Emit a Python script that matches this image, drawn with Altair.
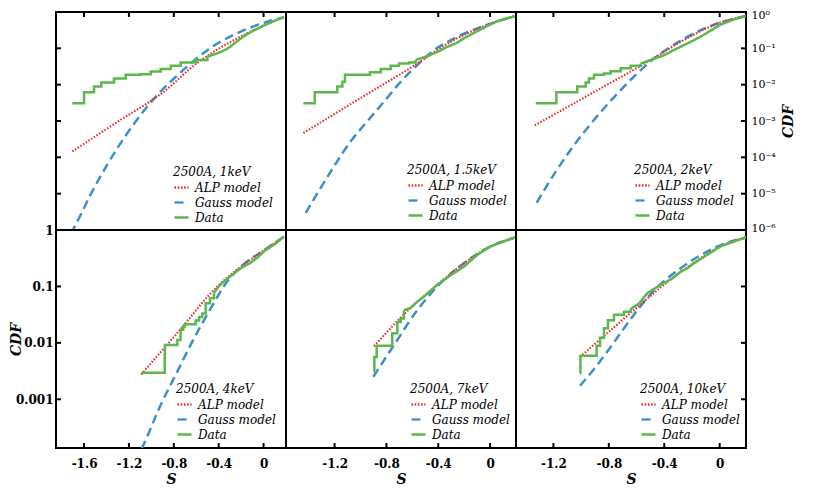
import altair as alt
import pandas as pd

SERIES = ["ALP model", "Gauss model", "Data"]
SERIES_COLORS = ["#e8302a", "#3d8fcb", "#5cb84c"]
SERIES_DASHES = [[1.6, 1.6], [9, 5], [1, 0]]

PANEL_LABELS = ["2500A, 1keV", "2500A, 1.5keV", "2500A, 2keV",
                "2500A, 4keV", "2500A, 7keV", "2500A, 10keV"]
LEGEND_X = [117, 121, 118, 120, 124, 124]
LEGEND_Y = [155, 153, 153, 154, 154, 154]

X_DOMAINS = [[-1.85, 0.2], [-1.575, 0.2], [-1.47, 0.19]]
X_TICKS = [[-1.6, -1.2, -0.8, -0.4, 0.0], [-1.2, -0.8, -0.4, 0.0], [-1.2, -0.8, -0.4, 0.0]]
Y_DOMAINS = [[1e-6, 1.0], [1.37e-4, 1.0]]
Y_LABELS_TOP = [1.0, 0.1, 0.01, 1e-3, 1e-4, 1e-5, 1e-6]
Y_LABELS_BOTTOM = [1.0, 0.1, 0.01, 0.001]
Y_TICKS_TOP = [0.1, 0.01, 1e-3, 1e-4, 1e-5]
Y_TICKS_BOTTOM = [0.1, 0.01, 0.001]

# ---- 2500A, 1keV ----
alp_s_1 = [-1.705, -1.30, -0.887, -0.591, -0.293, 0.004, 0.182]
alp_c_1 = [1.45e-4, 9.55e-4, 6.46e-3, 0.0398, 0.151, 0.427, 0.724]
gau_s_1 = [-1.72, -1.69, -1.541, -1.393, -1.244, -1.095, -0.947, -0.798, -0.65, -0.501, -0.174, 0.182]
gau_c_1 = [8.0e-7, 1.15e-6, 9.55e-6, 6.31e-5, 3.39e-4, 1.48e-3, 5.25e-3, 0.0148, 0.0380, 0.0891, 0.316, 0.724]
step_s_1 = [-1.705, -1.600, -1.511, -1.446, -1.333, -1.229, -1.10, -1.006, -0.917, -0.828, -0.739, -0.605, -0.501]
step_c_1 = [0.00309, 0.00617, 0.00891, 0.0115, 0.0148, 0.0186, 0.0195, 0.0229, 0.0269, 0.0331, 0.0407, 0.0479, 0.0589]
tail_s_1 = [-0.501, -0.44, -0.382, -0.33, -0.29, -0.233, -0.17, -0.114, -0.05, 0.004, 0.09, 0.182]
tail_c_1 = [0.0589, 0.068, 0.0794, 0.095, 0.115, 0.16, 0.22, 0.282, 0.35, 0.427, 0.56, 0.724]

# ---- 2500A, 1.5keV ----
alp_s_2 = [-1.441, -1.00, -0.562, -0.304, 0.005, 0.197]
alp_c_2 = [4.68e-4, 4.27e-3, 0.0380, 0.151, 0.479, 0.776]
gau_s_2 = [-1.423, -1.307, -1.205, -1.076, -0.948, -0.819, -0.690, -0.562, -0.433, -0.30, 0.005, 0.197]
gau_c_2 = [2.95e-6, 1.45e-5, 5.62e-5, 2.75e-4, 9.77e-4, 3.39e-3, 0.0120, 0.0347, 0.0891, 0.17, 0.479, 0.776]
step_s_2 = [-1.441, -1.353, -1.179, -1.140, -1.12, -0.927, -0.844, -0.767, -0.703, -0.626, -0.574]
step_c_2 = [0.00309, 0.00617, 0.00891, 0.0120, 0.0186, 0.0219, 0.0269, 0.0331, 0.0380, 0.0407, 0.0479]
tail_s_2 = [-0.574, -0.497, -0.408, -0.33, -0.26, -0.20, -0.12, -0.04, 0.056, 0.197]
tail_c_2 = [0.0479, 0.0589, 0.0794, 0.11, 0.14, 0.19, 0.27, 0.38, 0.562, 0.776]

# ---- 2500A, 2keV ----
alp_s_3 = [-1.335, -0.90, -0.498, -0.282, 0.007, 0.19]
alp_c_3 = [7.59e-4, 6.46e-3, 0.0479, 0.151, 0.513, 0.776]
gau_s_3 = [-1.321, -1.196, -1.075, -0.956, -0.835, -0.715, -0.595, -0.474, -0.354, -0.041, 0.19]
gau_c_3 = [5.62e-6, 3.39e-5, 1.62e-4, 6.31e-4, 2.24e-3, 7.08e-3, 0.0204, 0.0525, 0.110, 0.447, 0.776]
step_s_3 = [-1.328, -1.179, -1.028, -0.967, -0.943, -0.907, -0.835, -0.787, -0.715, -0.642, -0.57]
step_c_3 = [0.00309, 0.00617, 0.00891, 0.0115, 0.0148, 0.0186, 0.0204, 0.0234, 0.0282, 0.0331, 0.0380]
tail_s_3 = [-0.57, -0.498, -0.402, -0.306, -0.21, -0.137, -0.07, 0.007, 0.10, 0.19]
tail_c_3 = [0.0380, 0.0479, 0.0646, 0.10, 0.15, 0.21, 0.30, 0.45, 0.62, 0.776]

# ---- 2500A, 4keV ----
alp_s_4 = [-1.090, -0.75, -0.412, -0.234, 0.004, 0.182]
alp_c_4 = [2.75e-3, 0.0166, 0.100, 0.200, 0.437, 0.759]
gau_s_4 = [-1.15, -1.081, -0.917, -0.769, -0.620, -0.471, -0.323, -0.174, 0.004, 0.182]
gau_c_4 = [8.0e-5, 1.41e-4, 7.94e-4, 3.09e-3, 0.0120, 0.0407, 0.123, 0.250, 0.437, 0.759]
step_s_4 = [-1.090, -0.881, -0.879, -0.769, -0.740, -0.715, -0.70, -0.605, -0.575, -0.546, -0.516, -0.478, -0.442]
step_c_4 = [0.00295, 0.0062, 0.00912, 0.0112, 0.0170, 0.0195, 0.0214, 0.0250, 0.0288, 0.0331, 0.0501, 0.0617, 0.0759]
tail_s_4 = [-0.442, -0.397, -0.323, -0.204, -0.12, -0.05, 0.004, 0.10, 0.182]
tail_c_4 = [0.0759, 0.102, 0.138, 0.209, 0.26, 0.33, 0.42, 0.56, 0.759]

# ---- 2500A, 7keV ----
alp_s_5 = [-0.896, -0.613, -0.407, -0.202, 0.005, 0.197]
alp_c_5 = [8.71e-3, 0.0417, 0.107, 0.257, 0.513, 0.741]
gau_s_5 = [-0.901, -0.742, -0.562, -0.407, -0.202, 0.005, 0.197]
gau_c_5 = [2.51e-3, 9.12e-3, 0.0380, 0.100, 0.257, 0.513, 0.741]
step_s_5 = [-0.896, -0.893, -0.875, -0.755, -0.716, -0.69, -0.665]
step_c_5 = [0.00309, 0.00562, 0.00891, 0.0148, 0.0234, 0.0269, 0.038]
tail_s_5 = [-0.665, -0.613, -0.562, -0.51, -0.407, -0.304, -0.202, -0.099, 0.005, 0.10, 0.197]
tail_c_5 = [0.038, 0.0417, 0.0537, 0.0661, 0.107, 0.158, 0.224, 0.363, 0.513, 0.62, 0.741]

# ---- 2500A, 10keV ----
alp_s_6 = [-1.008, -0.619, -0.402, -0.210, 0.007, 0.19]
alp_c_6 = [5.62e-3, 0.0380, 0.107, 0.240, 0.513, 0.741]
gau_s_6 = [-1.008, -0.883, -0.763, -0.619, -0.474, -0.282, -0.041, 0.19]
gau_c_6 = [1.74e-3, 4.07e-3, 1.02e-2, 0.0316, 0.0851, 0.209, 0.479, 0.741]
step_s_6 = [-1.008, -1.005, -0.888, -0.864, -0.835, -0.806, -0.763, -0.691, -0.643]
step_c_6 = [0.00288, 0.00589, 0.00891, 0.0123, 0.0182, 0.0251, 0.0316, 0.0355, 0.0398]
tail_s_6 = [-0.643, -0.58, -0.523, -0.46, -0.402, -0.34, -0.282, -0.234, -0.186, -0.10, 0.007, 0.10, 0.19]
tail_c_6 = [0.0398, 0.050, 0.0759, 0.095, 0.115, 0.14, 0.182, 0.209, 0.257, 0.35, 0.513, 0.62, 0.741]

PANELS = [
    (alp_s_1, alp_c_1, gau_s_1, gau_c_1, step_s_1, step_c_1, tail_s_1, tail_c_1),
    (alp_s_2, alp_c_2, gau_s_2, gau_c_2, step_s_2, step_c_2, tail_s_2, tail_c_2),
    (alp_s_3, alp_c_3, gau_s_3, gau_c_3, step_s_3, step_c_3, tail_s_3, tail_c_3),
    (alp_s_4, alp_c_4, gau_s_4, gau_c_4, step_s_4, step_c_4, tail_s_4, tail_c_4),
    (alp_s_5, alp_c_5, gau_s_5, gau_c_5, step_s_5, step_c_5, tail_s_5, tail_c_5),
    (alp_s_6, alp_c_6, gau_s_6, gau_c_6, step_s_6, step_c_6, tail_s_6, tail_c_6),
]

W, H = 230, 218
TICK = 5
FONT = "DejaVu Serif"


def make_panel(i):
    alp_s, alp_c, gau_s, gau_c, st_s, st_c, tl_s, tl_c = PANELS[i]
    row, col = divmod(i, 3)
    xscale = alt.Scale(domain=X_DOMAINS[col], nice=False, zero=False)
    yscale = alt.Scale(type="log", domain=Y_DOMAINS[row], nice=False)

    if row == 1:
        xaxis = alt.Axis(values=X_TICKS[col],
                         labelExpr="datum.value == 0 ? '0' : '-' + format(abs(datum.value), '.1f')",
                         ticks=False, domain=False, grid=False,
                         labelFont=FONT, labelFontWeight="bold", labelFontSize=12,
                         labelPadding=10, labelColor="black",
                         title="S", titleFont=FONT, titleFontStyle="italic",
                         titleFontWeight="bold", titleFontSize=14, titlePadding=3,
                         titleColor="black")
    else:
        xaxis = None

    if i == 3:
        yaxis = alt.Axis(orient="left", values=Y_LABELS_BOTTOM, format="~g",
                         ticks=False, domain=False, grid=False,
                         labelFont=FONT, labelFontWeight="bold", labelFontSize=12,
                         labelPadding=3, labelColor="black",
                         title="CDF", titleFont=FONT, titleFontStyle="italic",
                         titleFontWeight="bold", titleFontSize=14, titlePadding=0,
                         titleColor="black", titleX=-33)
    elif i == 2:
        yaxis = alt.Axis(orient="right", values=Y_LABELS_TOP,
                         labelExpr="'10' + ['\u2070','\u207b\u00b9','\u207b\u00b2','\u207b\u00b3','\u207b\u2074','\u207b\u2075','\u207b\u2076'][round(-log(datum.value)/LN10)]",
                         ticks=False, domain=False, grid=False,
                         labelFont=FONT, labelFontSize=11,
                         labelPadding=5, labelColor="black",
                         labelFlush=True, labelFlushOffset=3,
                         title="CDF", titleFont=FONT, titleFontStyle="italic",
                         titleFontWeight="bold", titleFontSize=14, titlePadding=20,
                         titleColor="black", titleAngle=270)
    else:
        yaxis = None

    legend = alt.Legend(title=PANEL_LABELS[i], orient="none",
                        legendX=LEGEND_X[i], legendY=LEGEND_Y[i],
                        symbolType="stroke", symbolSize=196, symbolStrokeWidth=2.3,
                        labelFont=FONT, labelFontStyle="italic", labelFontSize=12,
                        labelColor="black", labelOffset=5,
                        titleFont=FONT, titleFontStyle="italic", titleFontWeight="normal",
                        titleFontSize=12, titleColor="black", titlePadding=0,
                        padding=0, rowPadding=0)
    color = alt.Color("series:N", scale=alt.Scale(domain=SERIES, range=SERIES_COLORS), legend=legend)
    dash = alt.StrokeDash("series:N", scale=alt.Scale(domain=SERIES, range=SERIES_DASHES), legend=legend)
    X = alt.X("s:Q", scale=xscale, axis=xaxis)
    Y = alt.Y("cdf:Q", scale=yscale, axis=yaxis)

    df_a = pd.DataFrame({"s": alp_s, "cdf": alp_c, "series": SERIES[0]})
    df_g = pd.DataFrame({"s": gau_s, "cdf": gau_c, "series": SERIES[1]})
    df_st = pd.DataFrame({"s": st_s, "cdf": st_c, "series": SERIES[2]})
    df_tl = pd.DataFrame({"s": tl_s, "cdf": tl_c, "series": SERIES[2]})

    gauss = alt.Chart(df_g).mark_line(interpolate="monotone", strokeWidth=2.5, clip=True).encode(
        x=X, y=Y, color=color, strokeDash=dash)
    alp = alt.Chart(df_a).mark_line(interpolate="monotone", strokeWidth=2.1, clip=True).encode(
        x=X, y=Y, color=color, strokeDash=dash)
    steps = alt.Chart(df_st).mark_line(interpolate="step-after", strokeWidth=2.5, clip=True).encode(
        x=X, y=Y, color=color, strokeDash=dash)
    tail = alt.Chart(df_tl).mark_line(interpolate="linear", strokeWidth=2.5, clip=True).encode(
        x=X, y=Y, color=color, strokeDash=dash)

    layers = [gauss, alp, steps, tail]

    xt = pd.DataFrame({"s": X_TICKS[col]})
    if row == 0:
        ty, ty2 = 0, TICK
    else:
        ty, ty2 = H - TICK, H
    layers.append(alt.Chart(xt).mark_rule(color="black", strokeWidth=2).encode(
        x=X, y=alt.value(ty), y2=alt.value(ty2)))

    if i in (0, 2, 3, 5):
        vals = Y_TICKS_TOP if row == 0 else Y_TICKS_BOTTOM
        yt = pd.DataFrame({"cdf": vals})
        if col == 0:
            tx, tx2 = 0, TICK
        else:
            tx, tx2 = W - TICK, W
        layers.append(alt.Chart(yt).mark_rule(color="black", strokeWidth=2).encode(
            y=Y, x=alt.value(tx), x2=alt.value(tx2)))

    return alt.layer(*layers).properties(width=W, height=H)


panels = [make_panel(i) for i in range(6)]

chart = alt.concat(*panels, columns=3, spacing=0, bounds="flush", align="each").resolve_scale(
    color="independent", strokeDash="independent"
).properties(
    padding={"left": 0, "top": 0, "right": 5, "bottom": 5},
    background="white",
).configure_view(stroke="black", strokeWidth=2)

chart.save("out.html", embed_options={"renderer": "svg", "actions": False})
